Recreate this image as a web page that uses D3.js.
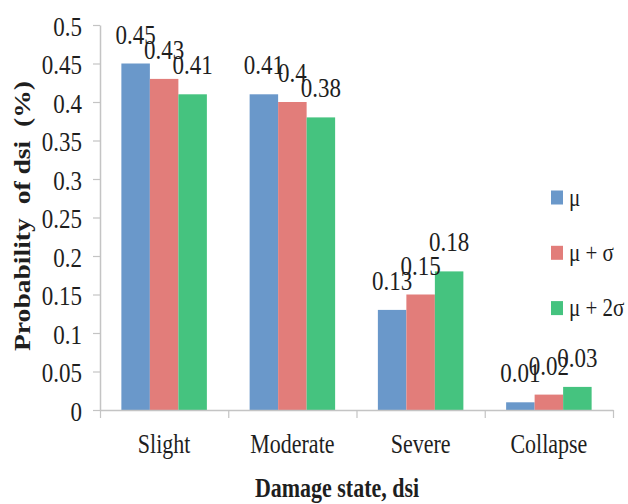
<!DOCTYPE html>
<html>
<head>
<meta charset="utf-8">
<script src="https://cdn.jsdelivr.net/npm/d3@7/dist/d3.min.js"></script>
<style>
  html, body { margin: 0; padding: 0; background: #fff; }
  svg { display: block; }
  text { font-family: "Liberation Serif", "Times New Roman", serif; fill: #1e1e1e; }
</style>
</head>
<body>
<svg id="chart" width="628" height="504"></svg>
<script>
// Damage-state probabilities for three levels of the input parameter
const categories = ["Slight", "Moderate", "Severe", "Collapse"];
const seriesNames = ["\u03bc", "\u03bc + \u03c3", "\u03bc + 2\u03c3"];
const seriesMu = [0.45, 0.41, 0.13, 0.01];
const seriesMuSigma = [0.43, 0.4, 0.15, 0.02];
const seriesMu2Sigma = [0.41, 0.38, 0.18, 0.03];
const yTicks = [0, 0.05, 0.1, 0.15, 0.2, 0.25, 0.3, 0.35, 0.4, 0.45, 0.5];
const yTickLabels = ["0", "0.05", "0.1", "0.15", "0.2", "0.25", "0.3", "0.35", "0.4", "0.45", "0.5"];
const colors = ["#6a98ca", "#e27d7a", "#45c37f"];

const seriesValues = [seriesMu, seriesMuSigma, seriesMu2Sigma];
const rows = categories.map((c, i) => ({
  category: c,
  values: seriesValues.map((s, k) => ({ key: k, value: s[i] }))
}));

const svg = d3.select("#chart");
const plot = { left: 100, right: 613, top: 25, bottom: 410 };
const TALL = 1.2; // glyphs are drawn a little taller than wide

const x0 = d3.scaleBand().domain(categories).range([plot.left, plot.right]).padding(0);
const x1 = d3.scaleBand().domain(d3.range(seriesNames.length))
  .range([0, x0.bandwidth()]).paddingInner(0).paddingOuter(0.75);
const y = d3.scaleLinear().domain([0, 0.5]).range([plot.bottom, plot.top]);

// bars
const groups = svg.append("g").selectAll("g").data(rows).join("g")
  .attr("transform", d => `translate(${x0(d.category)},0)`);
groups.selectAll("rect").data(d => d.values).join("rect")
  .attr("x", d => x1(d.key))
  .attr("width", x1.bandwidth())
  .attr("y", d => y(d.value))
  .attr("height", d => y(0) - y(d.value))
  .attr("fill", d => colors[d.key]);

// value labels
groups.selectAll("text.val").data(d => d.values).join("text")
  .attr("class", "val")
  .attr("text-anchor", "middle")
  .attr("font-size", 23)
  .attr("transform", d => `translate(${x1(d.key) + x1.bandwidth() / 2},${y(d.value) - 20}) scale(1,${TALL})`)
  .text(d => String(d.value));

// y axis
const yAxis = svg.append("g")
  .attr("transform", `translate(${plot.left},0)`)
  .call(d3.axisLeft(y).tickValues(yTicks).tickSize(7).tickSizeOuter(0)
    .tickFormat((d, i) => yTickLabels[i]));
yAxis.select(".domain").attr("stroke", "#c4c4c4").attr("stroke-width", 1.5);
yAxis.selectAll(".tick line").attr("stroke", "#c4c4c4").attr("stroke-width", 1.2);
yAxis.selectAll(".tick text")
  .attr("x", null).attr("dy", null)
  .attr("font-size", 23)
  .attr("fill", "#1e1e1e")
  .attr("font-family", "Liberation Serif, serif")
  .attr("text-anchor", "end")
  .attr("transform", `translate(-18,10) scale(1,${TALL})`);

// x axis with boundary ticks between categories
const boundaries = categories.map(c => x0(c)).concat([plot.right]);
const xb = d3.scaleLinear().domain([plot.left, plot.right]).range([plot.left, plot.right]);
const xAxis = svg.append("g")
  .attr("transform", `translate(0,${plot.bottom})`)
  .call(d3.axisBottom(xb).tickValues(boundaries).tickSize(8).tickSizeOuter(0).tickFormat(""));
xAxis.select(".domain").attr("stroke", "#c4c4c4").attr("stroke-width", 1.5);
xAxis.selectAll(".tick line").attr("stroke", "#c4c4c4").attr("stroke-width", 1.2);

// category labels
svg.append("g").selectAll("text").data(categories).join("text")
  .attr("text-anchor", "middle")
  .attr("font-size", 22)
  .attr("transform", c => `translate(${x0(c) + x0.bandwidth() / 2},453) scale(1,${TALL})`)
  .text(c => c);

// axis titles
svg.append("text")
  .attr("text-anchor", "middle")
  .attr("font-size", 22)
  .attr("font-weight", "bold")
  .attr("transform", `translate(337,497) scale(1,${TALL})`)
  .text("Damage state, dsi");

svg.append("text")
  .attr("text-anchor", "middle")
  .attr("font-size", 23)
  .attr("font-weight", "bold")
  .attr("xml:space", "preserve")
  .style("white-space", "pre")
  .attr("transform", `translate(30,216) scale(1,${TALL}) rotate(-90)`)
  .text("Probability  of dsi  (%)");

// legend
const legend = svg.append("g").selectAll("g").data(seriesNames).join("g")
  .attr("transform", (d, i) => `translate(551,${197.5 + i * 55.3})`);
legend.append("rect")
  .attr("x", 0).attr("y", -7).attr("width", 12).attr("height", 14)
  .attr("fill", (d, i) => colors[i]);
legend.append("text")
  .attr("font-size", 21)
  .attr("transform", `translate(18,8) scale(1,${TALL})`)
  .text(d => d);
</script>
</body>
</html>
